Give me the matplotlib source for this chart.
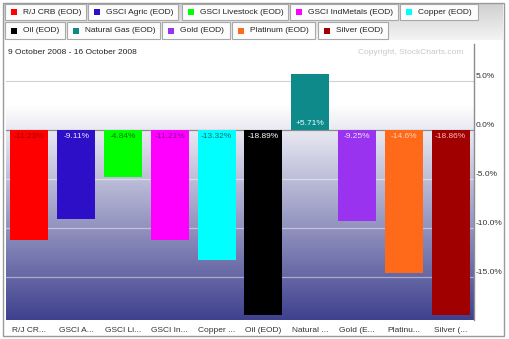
import numpy as np
import matplotlib
matplotlib.use("Agg")
import matplotlib.pyplot as plt
import matplotlib.patches as mpatches
from matplotlib.transforms import Affine2D, offset_copy

plt.rcParams["font.family"] = ["Liberation Sans", "DejaVu Sans"]

# ---------------------------------------
# Data (9 Oct 2008 - 16 Oct 2008, % change)
# ---------------------------------------
names = ["R/J CRB (EOD)", "GSCI Agric (EOD)", "GSCI Livestock (EOD)",
         "GSCI IndMetals (EOD)", "Copper (EOD)", "Oil (EOD)",
         "Natural Gas (EOD)", "Gold (EOD)", "Platinum (EOD)", "Silver (EOD)"]
short_names = ["R/J CR...", "GSCI A...", "GSCI Li...", "GSCI In...", "Copper ...",
               "Oil (EOD)", "Natural ...", "Gold (E...", "Platinu...", "Silver (..."]
changes = [-11.23, -9.11, -4.84, -11.21, -13.32, -18.89, 5.71, -9.25, -14.6, -18.86]
value_labels = ["-11.23%", "-9.11%", "-4.84%", "-11.21%", "-13.32%",
                "-18.89%", "+5.71%", "-9.25%", "-14.6%", "-18.86%"]
yticks = [5, 0, -5, -10, -15]
ytick_labels = ["5.0%", "0.0%", "-5.0%", "-10.0%", "-15.0%"]

colors = ["#ff0000", "#2e0fc8", "#00ff00", "#ff00ff", "#00ffff",
          "#000000", "#0f8a8a", "#9933f0", "#ff6a1a", "#a00000"]
text_colors = ["#a00000", "#e8e8ff", "#008000", "#9000a0", "#007070",
               "#ffffff", "#e8ffff", "#f0e0ff", "#ffd0b0", "#ffb8b8"]

W, H = 510, 339
fig = plt.figure(figsize=(W / 100, H / 100), dpi=100)
fig.patch.set_facecolor("white")

# pixel coordinates measured from the top-left corner
px = Affine2D().scale(1 / W, -1 / H).translate(0, 1) + fig.transFigure

# outer border
fig.patches.append(mpatches.Rectangle((3, 3), 501, 333, transform=px, fill=False,
                                      edgecolor="#9a9a9a", linewidth=1))

# ---------------------------------------
# Legend tabs
# ---------------------------------------
grad = np.linspace(0, 1, 50).reshape(-1, 1)
lax = fig.add_axes([4 / W, 1 - 40 / H, 499 / W, 36 / H])
lax.imshow(grad, aspect="auto", cmap=matplotlib.colors.LinearSegmentedColormap.from_list(
    "g", ["#f4f4f4", "#d0d0d0"]), extent=(0, 1, 0, 1), origin="lower")
lax.set_axis_off()

tabs = [(5, 86, 4, 20), (88, 178, 4, 20), (182, 288, 4, 20), (290, 398, 4, 20),
        (400, 478, 4, 20), (5, 65, 22, 39), (67, 160, 22, 39), (162, 230, 22, 39),
        (232, 315, 22, 39), (318, 388, 22, 39)]
for (x0, x1, y0, y1), name, col in zip(tabs, names, colors):
    fig.patches.append(mpatches.Rectangle((x0, y0), x1 - x0, y1 - y0, transform=px,
                                          facecolor="#fcfcfc", edgecolor="#a8a8a8",
                                          linewidth=0.8))
    fig.patches.append(mpatches.Rectangle((x0 + 6, (y0 + y1) / 2 - 3), 6, 6,
                                          transform=px, facecolor=col,
                                          edgecolor="none"))
    fig.text(x0 + 18, (y0 + y1) / 2 + 0.5, name, transform=px, fontsize=6,
             color="#222222", va="center", ha="left")

# ---------------------------------------
# Main plot
# ---------------------------------------
ax = fig.add_axes([6 / W, 1 - 320 / H, 468 / W, 276 / H])
ylo, yhi = -19.4, 8.8
ax.set_xlim(-0.5, len(names) - 0.5)
ax.set_ylim(ylo, yhi)

# background gradient: white above 5% to blue at the bottom
cmap = matplotlib.colors.LinearSegmentedColormap.from_list(
    "bg", [(0, "#3f418e"), (0.78, "#ffffff"), (1, "#ffffff")])
ax.imshow(np.linspace(0, 1, 256).reshape(-1, 1), aspect="auto", cmap=cmap,
          extent=(-0.5, len(names) - 0.5, ylo, yhi), origin="lower", zorder=0)

for t in yticks:
    if t == 0:
        ax.axhline(t, color="#8c8c8c", linewidth=0.9, zorder=1)
    elif t > 0:
        ax.axhline(t, color="#d0d0d0", linewidth=0.8, zorder=1)
    else:
        ax.axhline(t, color="white", alpha=0.45, linewidth=0.9, zorder=1)

x = np.arange(len(names))
ax.bar(x, changes, width=0.81, color=colors, zorder=2)

for xi, v, lab, tc in zip(x, changes, value_labels, text_colors):
    if v < 0:
        tr = offset_copy(ax.transData, fig=fig, y=-3, units="dots")
        ax.text(xi, 0, lab, transform=tr, ha="center", va="top", fontsize=6,
                color=tc, zorder=3)
    else:
        tr = offset_copy(ax.transData, fig=fig, y=3, units="dots")
        ax.text(xi, 0, lab, transform=tr, ha="center", va="bottom", fontsize=6,
                color=tc, zorder=3)

for sp in ["left", "top", "bottom"]:
    ax.spines[sp].set_visible(False)
ax.spines["right"].set_color("#8c8c8c")
ax.spines["right"].set_linewidth(1)
ax.set_yticks([])
ax.set_xticks(x)
ax.set_xticklabels(short_names, fontsize=6, color="#333333")
ax.tick_params(axis="x", length=0, pad=5)

ytr = offset_copy(ax.get_yaxis_transform(), fig=fig, x=2, y=1, units="dots")
for t, lab in zip(yticks, ytick_labels):
    ax.text(1, t, lab, transform=ytr, ha="left", va="bottom", fontsize=6,
            color="#333333", clip_on=False)

ax.text(2 / 468, 1 - 8.5 / 276, "9 October 2008 - 16 October 2008", transform=ax.transAxes,
        fontsize=6, color="#222222", ha="left", va="center")
ax.text(457 / 468, 1 - 8.5 / 276, "Copyright, StockCharts.com", transform=ax.transAxes,
        fontsize=6, color="#c8c8c8", ha="right", va="center")

fig.savefig("out.png", dpi=100)
